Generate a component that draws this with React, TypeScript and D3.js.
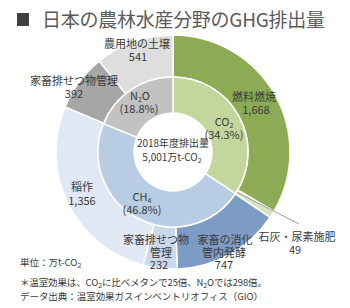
import React from "react";
import * as d3 from "d3";

// ---- data ----
const gasNames = ["CO2", "CH4", "N2O"];
const gasShares = [34.3, 46.8, 18.8];
const gasShareLabels = ["(34.3%)", "(46.8%)", "(18.8%)"];

const sourceNames = [
  "燃料燃焼",
  "石灰・尿素施肥",
  "家畜の消化管内発酵",
  "家畜排せつ物管理(CH4)",
  "稲作",
  "家畜排せつ物管理(N2O)",
  "農用地の土壌",
];
const sourceValues = [1668, 49, 747, 232, 1356, 392, 541];
const sourceValueLabels = ["1,668", "49", "747", "232", "1,356", "392", "541"];

const titleText = "日本の農林水産分野のGHG排出量";
const centerLine1 = "2018年度排出量";
const centerLine2 = "5,001万t-CO";

// ---- style ----
const gasColors = ["#c3d69b", "#b8cce4", "#c2c2c2"];
const sourceColors = ["#8dab55", "#d8e4bd", "#7d9cc5", "#cbd8e9", "#e0e8f3", "#a6a6a6", "#dedede"];
const FONT = "'Noto Sans CJK JP', 'Noto Sans', sans-serif";
const TEXT = "#3a3a3a";

const W = 350;
const H = 308;
const cx = 173;
const cy = 152;
const r0 = 39;
const r1 = 75;
const r2 = 117;

const Sub = ({ t }: { t: string }) => (
  <tspan fontSize="7" baselineShift="-30%">{t}</tspan>
);

export default function App() {
  const pie = d3.pie<number>().sort(null).value((d) => d);
  const innerArcs = pie(gasShares);
  const outerArcs = pie(sourceValues);
  const innerArc = d3.arc<d3.PieArcDatum<number>>().innerRadius(r0).outerRadius(r1);
  const outerArc = d3.arc<d3.PieArcDatum<number>>().innerRadius(r1).outerRadius(r2);

  // leader line for the thin slice
  const thin = outerArcs[1];
  const mid = (thin.startAngle + thin.endAngle) / 2;
  const lx1 = cx + Math.sin(mid) * (r1 + 1);
  const ly1 = cy - Math.cos(mid) * (r1 + 1);

  const fs = 11;
  return (
    <svg
      width={W}
      height={H}
      style={{ position: "absolute", left: 0, top: 0, background: "#fff" }}
      fontFamily={FONT}
    >
      <rect x={17} y={13} width={12} height={13} fill="#404040" />
      <text x={42} y={27} fontSize={19} fill="#5a5a5a" textLength={283} lengthAdjust="spacing">
        {titleText}
      </text>

      <g transform={`translate(${cx},${cy})`}>
        {outerArcs.map((a, i) => (
          <path key={"o" + i} d={outerArc(a) || ""} fill={sourceColors[i]} stroke="#fff" strokeWidth={1.5} />
        ))}
        {innerArcs.map((a, i) => (
          <path key={"i" + i} d={innerArc(a) || ""} fill={gasColors[i]} stroke="#fff" strokeWidth={1.5} />
        ))}
      </g>

      <line x1={lx1} y1={ly1} x2={299} y2={224} stroke="#9a9a9a" strokeWidth={1} />

      <g fontSize={fs} fill={TEXT} textAnchor="middle">
        {/* outer labels */}
        <text x={137} y={48}>{sourceNames[6]}</text>
        <text x={138} y={61}>{sourceValueLabels[6]}</text>

        <text x={74} y={85}>家畜排せつ物管理</text>
        <text x={74} y={98}>{sourceValueLabels[5]}</text>

        <text x={254} y={101}>{sourceNames[0]}</text>
        <text x={256} y={114}>{sourceValueLabels[0]}</text>

        <text x={82} y={191}>{sourceNames[4]}</text>
        <text x={82} y={205}>{sourceValueLabels[4]}</text>

        <text x={156} y={244}>家畜排せつ物</text>
        <text x={161} y={257}>管理</text>
        <text x={159} y={269}>{sourceValueLabels[3]}</text>

        <text x={225} y={244}>家畜の消化</text>
        <text x={224} y={257}>管内発酵</text>
        <text x={224} y={269}>{sourceValueLabels[2]}</text>

        <text x={297} y={241}>{sourceNames[1]}</text>
        <text x={295} y={254}>{sourceValueLabels[1]}</text>

        {/* inner labels */}
        <text x={140} y={100}>N<Sub t="2" />O</text>
        <text x={139} y={113}>{gasShareLabels[2]}</text>

        <text x={224} y={126}>CO<Sub t="2" /></text>
        <text x={224} y={139}>{gasShareLabels[0]}</text>

        <text x={142} y={201}>CH<Sub t="4" /></text>
        <text x={142} y={214}>{gasShareLabels[1]}</text>

        {/* center */}
        <text x={173} y={147} fontSize={10}>{centerLine1}</text>
        <text x={172} y={161} fontSize={10}>{centerLine2}<Sub t="2" /></text>
      </g>

      <g fontSize={9.5} fill={TEXT}>
        <text x={20} y={266}>単位：万t-CO<Sub t="2" /></text>
        <text x={20} y={286} textLength={247} lengthAdjust="spacing">
          ＊温室効果は、CO<Sub t="2" />に比べメタンで25倍、N<Sub t="2" />Oでは298倍。
        </text>
        <text x={20} y={300} textLength={243} lengthAdjust="spacing">
          データ出典：温室効果ガスインベントリオフィス（GIO）
        </text>
      </g>
    </svg>
  );
}
